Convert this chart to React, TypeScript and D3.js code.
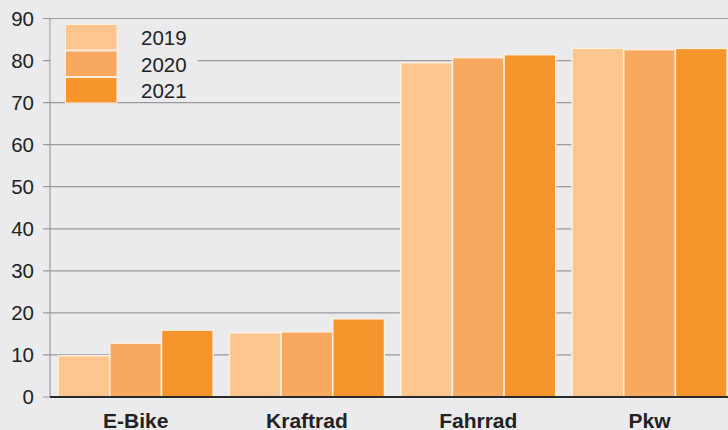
import React from "react";
import * as d3 from "d3";

const categories = ["E-Bike", "Kraftrad", "Fahrrad", "Pkw"];
const years = ["2019", "2020", "2021"];
const values2019 = [9.8, 15.3, 79.5, 82.9];
const values2020 = [12.8, 15.5, 80.7, 82.6];
const values2021 = [15.9, 18.6, 81.4, 82.9];
const yTicks = [0, 10, 20, 30, 40, 50, 60, 70, 80, 90];
const colors = ["#fdc68f", "#f9a95f", "#f7952d"];

const W = 728;
const H = 430;
const margin = { left: 50, top: 18.5, bottom: 33 };
const font = "'Liberation Sans', Arial, sans-serif";

export default function App() {
  const series = [values2019, values2020, values2021];

  // x band per category, inner band per year
  const x = d3
    .scaleBand()
    .domain(categories)
    .range([margin.left, margin.left + 4 * 171.3])
    .paddingInner(0.095)
    .paddingOuter(0.0475);
  const xi = d3.scaleBand().domain(years).range([0, x.bandwidth()]);
  const y = d3
    .scaleLinear()
    .domain([0, 90])
    .range([H - margin.bottom, margin.top]);

  const y0 = y(0);

  return (
    <svg
      width={W}
      height={H}
      style={{ position: "absolute", left: 0, top: 0, background: "#ebebee" }}
    >
      <rect width={W} height={H} fill="#ebebee" />
      {/* grid lines */}
      {yTicks.map((t) => (
        <g key={t}>
          <line x1={43} x2={W} y1={y(t)} y2={y(t)} stroke="#9a9a9c" strokeWidth={1.2} />
          <text
            x={34}
            y={y(t)}
            dy="0.36em"
            textAnchor="end"
            fontFamily={font}
            fontSize={20.5}
            fill="#222"
          >
            {t}
          </text>
        </g>
      ))}
      <line x1={margin.left} x2={margin.left} y1={y(90)} y2={y0} stroke="#9a9a9c" strokeWidth={1.2} />

      {/* legend box hides grid behind it */}
      <rect x={50.6} y={21} width={147} height={79} fill="#ebebee" />

      {/* bars */}
      {categories.map((c, ci) => (
        <g key={c} transform={`translate(${x(c)},0)`}>
          {series.map((s, si) => (
            <rect
              key={si}
              x={xi(years[si])}
              y={y(s[ci])}
              width={xi.bandwidth()}
              height={y0 - y(s[ci])}
              fill={colors[si]}
              stroke="#fbeee2"
              strokeWidth={1.5}
            />
          ))}
          <text
            x={x.bandwidth() / 2}
            y={427.5}
            textAnchor="middle"
            fontFamily={font}
            fontWeight="bold"
            fontSize={21}
            fill="#222"
          >
            {c}
          </text>
        </g>
      ))}

      {/* baseline */}
      <line x1={margin.left} x2={W} y1={y0} y2={y0} stroke="#2a2a2a" strokeWidth={2} />

      {/* legend */}
      {years.map((yr, i) => (
        <g key={yr} transform={`translate(65.5,${24.5 + i * 26.5})`}>
          <rect width={51.5} height={25.5} fill={colors[i]} stroke="#fbeee2" strokeWidth={1} />
          <text x={75.5} y={20.8} fontFamily={font} fontSize={20.5} fill="#222">
            {yr}
          </text>
        </g>
      ))}
    </svg>
  );
}
